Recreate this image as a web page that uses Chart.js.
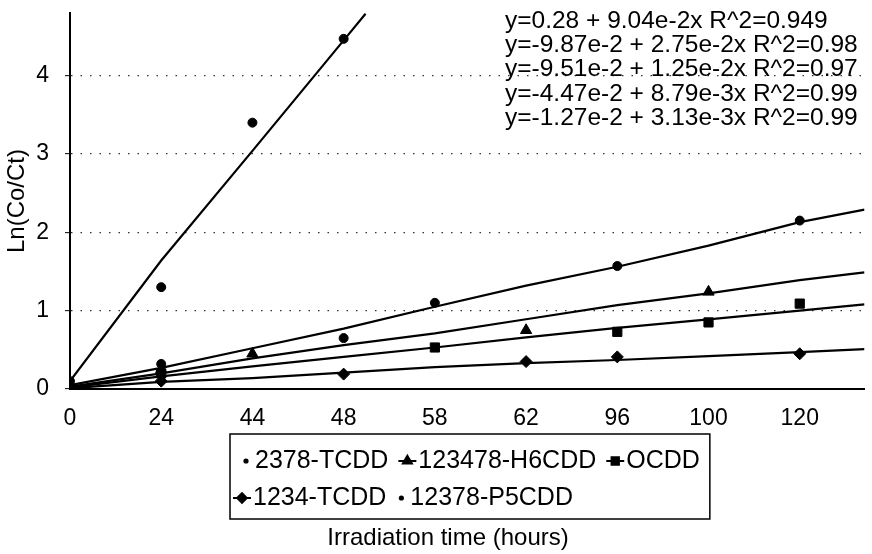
<!DOCTYPE html>
<html><head><meta charset="utf-8">
<script src="https://cdn.jsdelivr.net/npm/chart.js@4"></script>
<style>html,body{margin:0;padding:0;background:#fff}#wrap{width:872px;height:554px}</style>
</head><body><div id="wrap"><canvas id="c" width="872" height="554"></canvas></div>
<script>
// ---- data ----
const categories = ['0', '24', '44', '48', '58', '62', '96', '100', '120'];
const seriesNames = ['2378-TCDD', '123478-H6CDD', 'OCDD', '1234-TCDD', '12378-P5CDD'];
// measured points per category (null = no marker)
const tcdd2378 = [0.10, 1.30, 3.40, 4.47, null, null, null, null, null];
const h6cdd    = [0.00, 0.25, 0.45, null, null, 0.75, null, 1.24, null];
const ocdd     = [0.00, 0.20, null, null, 0.53, null, 0.73, 0.85, 1.09];
const tcdd1234 = [0.00, 0.10, null, 0.19, null, 0.35, 0.41, null, 0.45];
const p5cdd    = [0.00, 0.32, null, 0.65, 1.10, null, 1.57, null, 2.15];
// fitted lines, read at category positions (last entry = right edge of the plot)
const fitPos       = [0, 1, 2, 3, 4, 5, 6, 7, 8, 8.71];
const fitP5cdd     = [0.05, 0.27, 0.52, 0.77, 1.05, 1.32, 1.56, 1.83, 2.13, 2.29];
const fitH6cdd     = [0.03, 0.20, 0.39, 0.56, 0.71, 0.89, 1.07, 1.22, 1.39, 1.49];
const fitOcdd      = [0.02, 0.16, 0.29, 0.41, 0.53, 0.66, 0.78, 0.89, 1.00, 1.08];
const fitTcdd1234  = [0.01, 0.09, 0.14, 0.21, 0.28, 0.33, 0.37, 0.42, 0.47, 0.51];
const fitPos2378   = [0, 1, 2, 3, 3.24];
const fitTcdd2378  = [0.10, 1.64, 3.04, 4.45, 4.79];
const yTicks = [0, 1, 2, 3, 4];
const equations = [
  'y=0.28 + 9.04e-2x R^2=0.949',
  'y=-9.87e-2 + 2.75e-2x R^2=0.98',
  'y=-9.51e-2 + 1.25e-2x R^2=0.97',
  'y=-4.47e-2 + 8.79e-3x R^2=0.99',
  'y=-1.27e-2 + 3.13e-3x R^2=0.99'
];

const FONT = '"Liberation Sans", Arial, Helvetica, sans-serif';
const toPts = arr => arr.map((v, i) => ({x: i, y: v})).filter(p => p.y !== null);
const toFit = (pos, arr) => pos.map((x, i) => ({x, y: arr[i]}));

const markerStyles = [
  {pointStyle: 'circle', radius: 4.5, line: false},
  {pointStyle: 'triangle', radius: 6.5, line: true},
  {pointStyle: 'rect', radius: 6.5, line: true},
  {pointStyle: 'rectRot', radius: 6, line: true},
  {pointStyle: 'circle', radius: 4.5, line: false}
];
const pointSeries = [tcdd2378, h6cdd, ocdd, tcdd1234, p5cdd];

const fitDataset = (data) => ({
  data, showLine: true, borderColor: '#000', borderWidth: 2.2, pointRadius: 0,
  tension: 0, fill: false, order: 2
});

const datasets = [
  fitDataset(toFit(fitPos2378, fitTcdd2378)),
  fitDataset(toFit(fitPos, fitH6cdd)),
  fitDataset(toFit(fitPos, fitOcdd)),
  fitDataset(toFit(fitPos, fitTcdd1234)),
  fitDataset(toFit(fitPos, fitP5cdd))
];
pointSeries.forEach((s, i) => {
  datasets.push({
    label: seriesNames[i], data: toPts(s), showLine: false,
    pointStyle: markerStyles[i].pointStyle, pointRadius: markerStyles[i].radius,
    backgroundColor: '#000', borderColor: '#000', borderWidth: 1, order: 1
  });
});

const textPlugin = {
  id: 'textPlugin',
  afterDraw(chart) {
    const ctx = chart.ctx;
    ctx.save();
    ctx.fillStyle = '#000';
    ctx.textBaseline = 'middle';
    // equations
    ctx.font = '24.5px ' + FONT;
    ctx.textAlign = 'left';
    equations.forEach((t, i) => ctx.fillText(t, 505, 21 + i * 24.3));
    // legend
    ctx.font = '25px ' + FONT;
    const rows = [[0, 1, 2], [3, 4]];
    const rowY = [461, 498];
    const rowX = [241, 233];
    let maxRight = 0;
    rows.forEach((row, r) => {
      let x = rowX[r];
      const y = rowY[r];
      row.forEach((i) => {
        const st = markerStyles[i];
        if (st.line) {
          ctx.strokeStyle = '#000'; ctx.lineWidth = 2;
          ctx.beginPath(); ctx.moveTo(x, y); ctx.lineTo(x + 18, y); ctx.stroke();
          Chart.helpers.drawPoint(ctx, {pointStyle: st.pointStyle, radius: st.radius * 0.8, borderWidth: 1, rotation: 0}, x + 9, y);
          ctx.fill();
          x += 20;
        } else {
          ctx.beginPath(); ctx.arc(x + 5, y, 2.6, 0, Math.PI * 2); ctx.fill();
          x += 14;
        }
        ctx.fillText(seriesNames[i], x, y);
        x += ctx.measureText(seriesNames[i]).width + 10;
      });
      maxRight = Math.max(maxRight, x);
    });
    ctx.strokeStyle = '#000'; ctx.lineWidth = 1.5;
    ctx.strokeRect(230, 434, maxRight - 230, 85);
    // x axis title
    ctx.font = '24px ' + FONT;
    ctx.textAlign = 'center';
    ctx.fillText('Irradiation time (hours)', 448, 538);
    ctx.restore();
  }
};

new Chart(document.getElementById('c'), {
  type: 'scatter',
  data: {datasets},
  options: {
    responsive: false, animation: false,
    layout: {padding: {top: 13, right: 4, left: 0, bottom: 0}},
    plugins: {legend: {display: false}, tooltip: {enabled: false}},
    scales: {
      x: {
        type: 'linear', min: 0, max: 8.71,
        afterFit: s => { s.height = 165; s.paddingLeft = 0; s.paddingRight = 0; },
        grid: {display: false, drawTicks: false},
        border: {display: true, color: '#000', width: 2},
        ticks: {
          stepSize: 1, includeBounds: false, autoSkip: false, padding: 16, color: '#000',
          font: {family: FONT, size: 23},
          callback: v => (Number.isInteger(v) && categories[v] !== undefined) ? categories[v] : ''
        }
      },
      y: {
        type: 'linear', min: 0, max: 4.8,
        afterFit: s => { s.width = 70; s.paddingTop = 0; s.paddingBottom = 0; },
        afterBuildTicks: s => { s.ticks = yTicks.map(v => ({value: v})); },
        grid: {
          color: ctx => ctx.tick && ctx.tick.value === 0 ? 'rgba(0,0,0,0)' : '#333',
          lineWidth: 1.3, tickLength: 5, tickColor: '#000', tickWidth: 1
        },
        border: {display: true, color: '#000', width: 2, dash: [1.5, 8]},
        ticks: {padding: 16, color: '#000', font: {family: FONT, size: 23}},
        title: {display: true, text: 'Ln(Co/Ct)', color: '#000', font: {family: FONT, size: 24}, padding: {top: 3, bottom: 0}}
      }
    }
  },
  plugins: [textPlugin]
});
</script>
</body></html>
